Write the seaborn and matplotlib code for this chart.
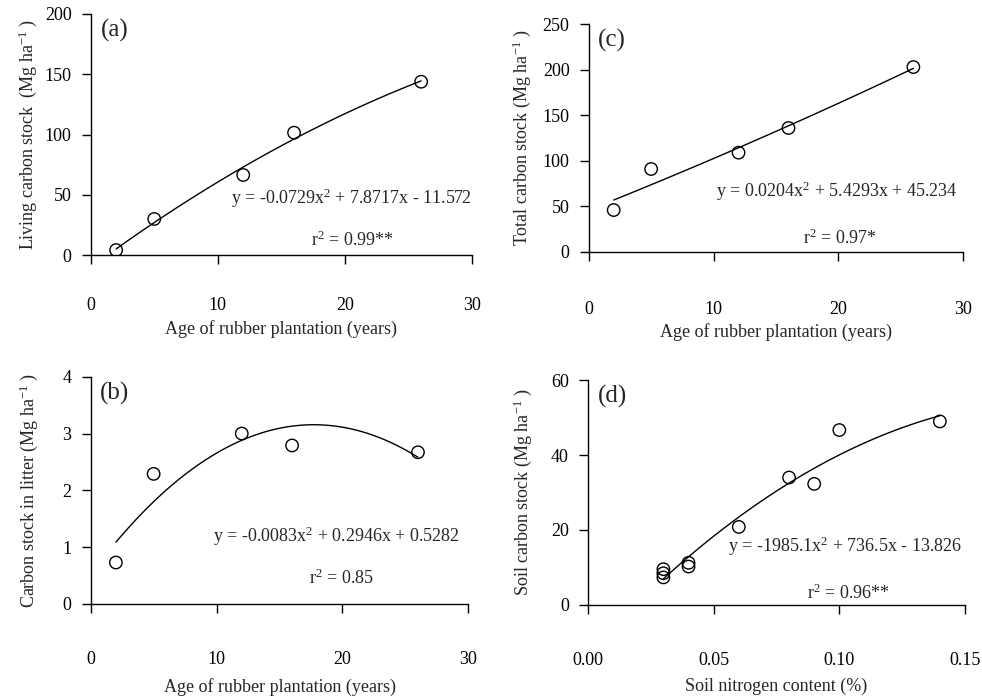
import matplotlib
matplotlib.use("Agg")
import matplotlib.pyplot as plt
import seaborn as sns
import numpy as np
import pandas as pd

# ---- data ----
age = [2, 5, 12, 16, 26]
living_c = [4.1, 29.9, 66.4, 101.5, 143.8]
litter_c = [0.73, 2.29, 3.0, 2.79, 2.67]
total_c = [45.8, 90.9, 108.9, 136.0, 203.0]
soil_n = [0.03, 0.03, 0.03, 0.04, 0.04, 0.06, 0.08, 0.09, 0.10, 0.14]
soil_c = [9.5, 8.4, 7.3, 11.2, 10.2, 20.8, 34.0, 32.3, 46.7, 49.0]

eq_a = r"y = -0.0729x$^{2}$ + 7.8717x - 11.572"
eq_b = r"y = -0.0083x$^{2}$ + 0.2946x + 0.5282"
eq_c = r"y = 0.0204x$^{2}$ + 5.4293x + 45.234"
eq_d = r"y = -1985.1x$^{2}$ + 736.5x - 13.826"
r2_a = r"r$^{2}$ = 0.99**"
r2_b = r"r$^{2}$ = 0.85"
r2_c = r"r$^{2}$ = 0.97*"
r2_d = r"r$^{2}$ = 0.96**"

sns.set_theme(style="ticks")
plt.rcParams['font.family'] = ['Liberation Serif', 'DejaVu Serif']
plt.rcParams['mathtext.fontset'] = 'custom'
plt.rcParams['mathtext.rm'] = 'Liberation Serif'
plt.rcParams['mathtext.it'] = 'Liberation Serif:italic'
plt.rcParams['mathtext.bf'] = 'Liberation Serif:bold'

W, H = 982, 697
fig = plt.figure(figsize=(W / 100, H / 100), dpi=100)

FS = 13

def px_axes(l, r, t, b):
    return fig.add_axes([l / W, 1 - b / H, (r - l) / W, (b - t) / H])

def panel(ax, x, y, xlim, ylim, xticks, yticks, xlabel, ylabel, tag, tagpos,
          eq, eqpos, r2, r2pos, xpad, xlab_y, ylab_x, xfmt=None):
    df = pd.DataFrame({"x": x, "y": y})
    sns.regplot(data=df, x="x", y="y", order=2, ci=None, scatter=False,
                truncate=True, ax=ax, line_kws=dict(color="black", lw=1.0))
    sns.scatterplot(data=df, x="x", y="y", ax=ax, marker="o", s=80,
                    facecolor="none", edgecolor="black", linewidth=1.0,
                    zorder=3)
    ax.set_xlim(*xlim)
    ax.set_ylim(*ylim)
    ax.set_xticks(xticks)
    ax.set_yticks(yticks)
    if xfmt:
        ax.set_xticklabels([xfmt.format(v) for v in xticks])
    sns.despine(ax=ax)
    for s in ("left", "bottom"):
        ax.spines[s].set_linewidth(1.0)
        ax.spines[s].set_color("black")
    ax.tick_params(axis="both", direction="out", length=6.3, width=1.0,
                   colors="black", labelsize=FS)
    ax.tick_params(axis="x", pad=xpad)
    ax.tick_params(axis="y", pad=7.5)
    ax.set_xlabel(xlabel, fontsize=FS)
    ax.set_ylabel(ylabel, fontsize=FS)
    ax.xaxis.set_label_coords(0.5, xlab_y)
    ax.yaxis.set_label_coords(ylab_x, 0.5)
    ax.text(tagpos[0], tagpos[1], tag, fontsize=18, ha="left", va="center")
    ax.text(eqpos[0], eqpos[1], eq, fontsize=FS, ha="left", va="center")
    ax.text(r2pos[0], r2pos[1], r2, fontsize=FS, ha="center", va="center")
    ax.set_facecolor("white")

xl_age = "Age of rubber plantation (years)"

ax_a = px_axes(90.7, 472, 14, 255)
panel(ax_a, age, living_c, (0, 30), (0, 200), [0, 10, 20, 30], [0, 50, 100, 150, 200],
      xl_age, r"Living carbon stock  (Mg ha$^{-1}$ )", "(a)", (0.8, 186.7),
      eq_a, (11.0, 47.3), r2_a, (20.6, 12.4),
      xpad=23.6, xlab_y=-0.272, ylab_x=-0.136)

ax_c = px_axes(588.7, 963.3, 24.3, 251.7)
panel(ax_c, age, total_c, (0, 30), (0, 250), [0, 10, 20, 30], [0, 50, 100, 150, 200, 250],
      xl_age, r"Total carbon stock (Mg ha$^{-1}$ )", "(c)", (0.72, 232.7),
      eq_c, (10.2, 66.0), r2_c, (20.1, 14.7),
      xpad=29, xlab_y=-0.312, ylab_x=-0.150)

ax_b = px_axes(90.7, 468.3, 376.7, 604)
panel(ax_b, age, litter_c, (0, 30), (0, 4), [0, 10, 20, 30], [0, 1, 2, 3, 4],
      xl_age, r"Carbon stock in litter (Mg ha$^{-1}$ )", "(b)", (0.74, 3.71),
      eq_b, (9.74, 1.19), r2_b, (19.9, 0.46),
      xpad=27.2, xlab_y=-0.324, ylab_x=-0.133)

ax_d = px_axes(588, 965, 380.3, 604.7)
panel(ax_d, soil_n, soil_c, (0, 0.15), (0, 60), [0, 0.05, 0.10, 0.15], [0, 20, 40, 60],
      "Soil nitrogen content (%)", r"Soil carbon stock (Mg ha$^{-1}$ )", "(d)", (0.0039, 55.7),
      eq_d, (0.0558, 15.6), r2_d, (0.1035, 3.1),
      xpad=28, xlab_y=-0.325, ylab_x=-0.142, xfmt="{:.2f}")

fig.savefig("out.png", dpi=100, facecolor="white")
